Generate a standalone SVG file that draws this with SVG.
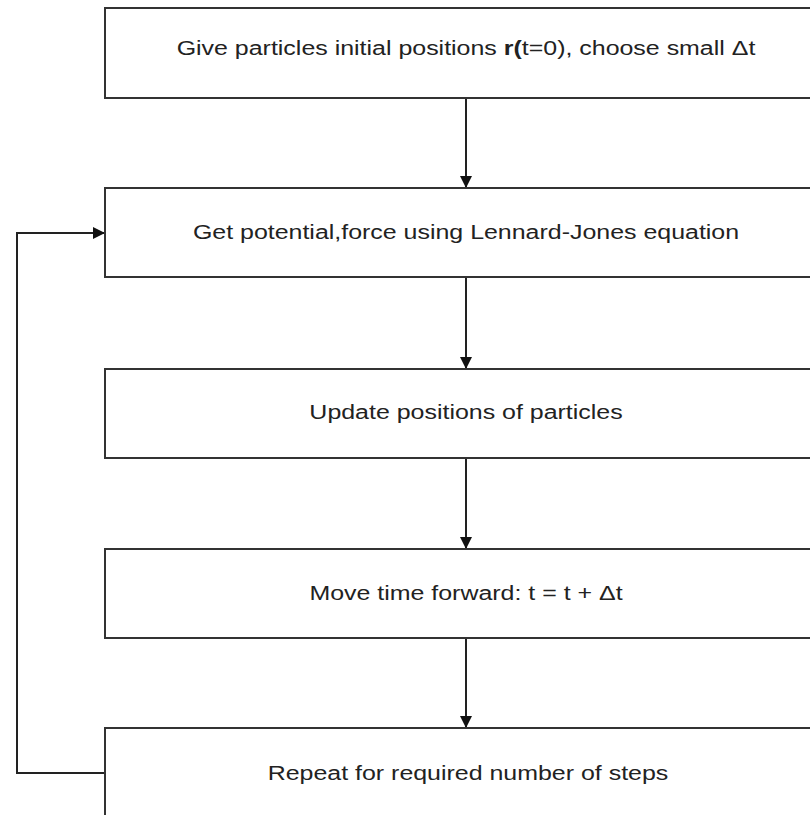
<svg xmlns="http://www.w3.org/2000/svg" width="810" height="815" viewBox="0 0 810 815">
<style>
.box{fill:#fff;stroke:#333;stroke-width:2}
.lbl{font-family:"Liberation Sans",Arial,sans-serif;font-size:19.5px;fill:#222;text-anchor:middle}
.con{fill:none;stroke:#222;stroke-width:2}
</style>
<defs>
<marker id="ah" markerWidth="12" markerHeight="12" refX="11" refY="6" orient="auto" markerUnits="userSpaceOnUse">
<path d="M0,0 L12,6 L0,12 Z" fill="#111"/>
</marker>
</defs>
<rect width="810" height="815" fill="#fff"/>
<g id="connectors">
<line class="con" x1="466" y1="98" x2="466" y2="187" marker-end="url(#ah)"/>
<line class="con" x1="466" y1="277" x2="466" y2="368" marker-end="url(#ah)"/>
<line class="con" x1="466" y1="458" x2="466" y2="548" marker-end="url(#ah)"/>
<line class="con" x1="466" y1="638" x2="466" y2="727" marker-end="url(#ah)"/>
<polyline class="con" points="105,773 17,773 17,233 104,233" marker-end="url(#ah)"/>
</g>
<g id="n1">
<rect class="box" x="105" y="8" width="720" height="90"/>
<text class="lbl" transform="translate(466,55) scale(1.28,1)">Give particles initial positions <tspan font-weight="bold">r(</tspan>t=0), choose small Δt</text>
</g>
<g id="n2">
<rect class="box" x="105" y="188" width="720" height="89"/>
<text class="lbl" transform="translate(466,239) scale(1.28,1)">Get potential,force using Lennard-Jones equation</text>
</g>
<g id="n3">
<rect class="box" x="105" y="369" width="720" height="89"/>
<text class="lbl" transform="translate(466,419) scale(1.28,1)">Update positions of particles</text>
</g>
<g id="n4">
<rect class="box" x="105" y="549" width="720" height="89"/>
<text class="lbl" transform="translate(466,600) scale(1.28,1)">Move time forward: t = t + Δt</text>
</g>
<g id="n5">
<rect class="box" x="105" y="728" width="720" height="120"/>
<text class="lbl" transform="translate(468,780) scale(1.28,1)">Repeat for required number of steps</text>
</g>
</svg>
